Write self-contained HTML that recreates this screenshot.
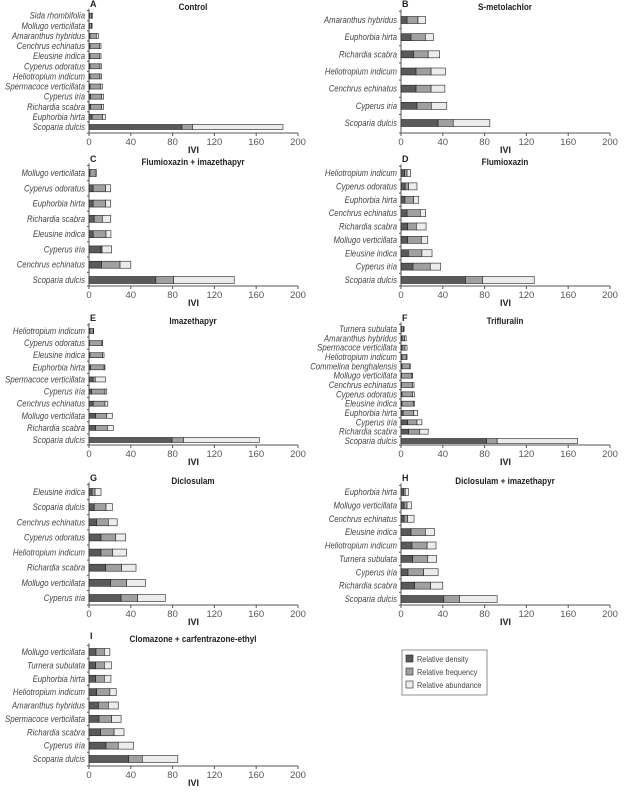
<!DOCTYPE html>
<html><head><meta charset="utf-8"><style>
body{margin:0;background:#fff}
svg{display:block}
text{font-family:"Liberation Sans",sans-serif}
</style></head><body>
<svg id="fig" width="624" height="792" viewBox="0 0 624 792"></svg>
<script>
const ticks=[0,40,80,120,160,200];
const seriesNames=["Relative density","Relative frequency","Relative abundance"];
const seriesColors=["#5a5a5a","#a0a0a0","#ececec"];

const catA=["Sida rhombifolia","Mollugo verticillata","Amaranthus hybridus","Cenchrus echinatus","Eleusine indica","Cyperus odoratus","Heliotropium indicum","Spermacoce verticillata","Cyperus iria","Richardia scabra","Euphorbia hirta","Scoparia dulcis"];
const denA=[0.5,0.5,1,1,1,1,1,1,1.5,1.5,3,89];
const freA=[2,2,6,9,9,9.5,9.5,10,10.5,10.5,10,10];
const abuA=[1,0.5,2,1.5,1.5,1.5,1.5,1.8,2,2,2.7,86.6];

const catB=["Amaranthus hybridus","Euphorbia hirta","Richardia scabra","Heliotropium indicum","Cenchrus echinatus","Cyperus iria","Scoparia dulcis"];
const denB=[5.8,9.6,12,14.4,14.4,15.3,35.5];
const freB=[10.5,13.7,14,14.4,14.4,13.7,14.5];
const abuB=[7.3,7.7,11,13.7,13.2,14.8,35];

const catC=["Mollugo verticillata","Cyperus odoratus","Euphorbia hirta","Richardia scabra","Eleusine indica","Cyperus iria","Cenchrus echinatus","Scoparia dulcis"];
const denC=[1,4,4,5,4,11.5,12,64];
const freC=[5,12,12,7.8,12.3,1,17.7,17];
const abuC=[1,4.8,4.8,8,4.7,9.2,10.3,58];

const catD=["Heliotropium indicum","Cyperus odoratus","Euphorbia hirta","Cenchrus echinatus","Richardia scabra","Mollugo verticillata","Eleusine indica","Cyperus iria","Scoparia dulcis"];
const denD=[3.5,4,3.8,5.8,6.4,6.4,7,11.5,61.7];
const freD=[2.3,3.3,8.2,12.7,8.3,13.1,13,16.5,16.3];
const abuD=[3.5,8,5,5.1,9.3,6.1,9.7,10,49.5];

const catE=["Heliotropium indicum","Cyperus odoratus","Eleusine indica","Euphorbia hirta","Spermacoce verticillata","Cyperus iria","Cenchrus echinatus","Mollugo verticillata","Richardia scabra","Scoparia dulcis"];
const denE=[1,0.5,1,1.5,4,2.5,4,6.4,6.4,79.5];
const freE=[3,12,12,13,2,12.8,11.3,10.6,11.2,10.9];
const abuE=[0.5,0.5,1.4,0.8,9.7,1.7,2.7,5.4,5.7,72.6];

const catF=["Turnera subulata","Amaranthus hybridus","Spermacoce verticillata","Heliotropium indicum","Commelina benghalensis","Mollugo verticillata","Cenchrus echinatus","Cyperus odoratus","Eleusine indica","Euphorbia hirta","Cyperus iria","Richardia scabra","Scoparia dulcis"];
const denF=[0.5,1,1,1,1,0.5,0.5,1,1,2,6.4,7.3,82];
const freF=[2,2.5,2.8,4,7,10,10.5,10,11,10,8.9,10.7,10];
const abuF=[0.5,1.5,2,0.8,1,0.7,1.5,1.8,1,4,4.7,8,77];

const catG=["Eleusine indica","Scoparia dulcis","Cenchrus echinatus","Cyperus odoratus","Heliotropium indicum","Richardia scabra","Mollugo verticillata","Cyperus iria"];
const denG=[3,5,7.3,11.5,11.5,16,20.8,30.7];
const freG=[2.8,11.3,11.2,14.1,11.2,15.3,15.2,15.9];
const abuG=[5.7,6.1,8.5,9.4,13.3,13.7,18,26.4];

const catH=["Euphorbia hirta","Mollugo verticillata","Cenchrus echinatus","Eleusine indica","Heliotropium indicum","Turnera subulata","Cyperus iria","Richardia scabra","Scoparia dulcis"];
const denH=[2.5,3,3,9.6,10.5,11.2,6.7,13,41];
const freH=[1.5,2.8,3.4,13.7,14.5,14.4,15,15.4,15];
const abuH=[3,4.1,6.1,8.7,8.5,8.4,13.8,11.6,36];

const catI=["Mollugo verticillata","Turnera subulata","Euphorbia hirta","Heliotropium indicum","Amaranthus hybridus","Spermacoce verticillata","Richardia scabra","Cyperus iria","Scoparia dulcis"];
const denI=[6.7,6.4,6.4,7.3,9,9.6,11.2,16.3,38];
const freI=[8,8.3,8.3,12.7,9.5,12.1,12.8,11.7,13];
const abuI=[5.3,6.7,6.3,6,9.5,9,9.5,14.5,34];

const NS="http://www.w3.org/2000/svg";
const svg=document.getElementById("fig");
function el(tag,attrs,parent,txt){const e=document.createElementNS(NS,tag);for(const k in attrs)e.setAttribute(k,attrs[k]);if(txt!==undefined)e.textContent=txt;(parent||svg).appendChild(e);return e;}

function panel(letter,title,cats,den,fre,abu,x0,yFirst,yLast,axisY,titleY,barH,ivi){
  const g=el("g",{});
  
  
  const xs=v=>x0+v*209/200;
  const n=cats.length;
  const ys=i=>n>1?yFirst+i*(yLast-yFirst)/(n-1):yFirst;
  const pl=el("text",{x:x0+1,y:titleY-3,"font-size":"9","font-weight":"bold",fill:"#222"},g,letter);
  
  
  const tt=el("text",{transform:"translate("+(x0+104)+","+titleY+") scale(0.9,1)","font-size":"9","font-weight":"bold",fill:"#222","text-anchor":"middle"},g,title);
  
  
  const top=yFirst-(ys(1)-ys(0))/2-2;
  el("line",{x1:x0,y1:top,x2:x0,y2:axisY,stroke:"#555","stroke-width":"1"},g);
  el("line",{x1:x0,y1:axisY,x2:xs(200),y2:axisY,stroke:"#555","stroke-width":"1"},g);
  for(let i=0;i<=n;i++){const yy=i<n?ys(i)-(ys(1)-ys(0))/2:axisY;el("line",{x1:x0-2,y1:yy,x2:x0,y2:yy,stroke:"#555"},g);}
  ticks.forEach(t=>{
    el("line",{x1:xs(t),y1:axisY,x2:xs(t),y2:axisY+3,stroke:"#555"},g);
    const tl=el("text",{x:xs(t),y:axisY+12,"font-size":"9.5",fill:"#555","text-anchor":"middle"},g,String(t));
    
    
  });
  if(ivi){const it=el("text",{x:xs(100),y:axisY+20,"font-size":"9","font-weight":"bold",fill:"#222","text-anchor":"middle"},g,"IVI");
    
    }
  cats.forEach((c,i)=>{
    const y=ys(i);
    const lb=el("text",{transform:"translate("+(x0-4)+","+(y+3)+") scale(0.86,1)","font-size":"9","font-style":"italic",fill:"#444","text-anchor":"end"},g,c);
    
    
    const vals=[den[i],fre[i],abu[i]];let acc=0;
    vals.forEach((v,k)=>{
      const r=el("rect",{x:xs(acc),y:y-barH/2,width:Math.max(0.5,xs(acc+v)-xs(acc)),height:barH,fill:seriesColors[k],stroke:"#222","stroke-width":"0.6"},g);
      
      
      acc+=v;
    });
  });
}
panel("A","Control",catA,denA,freA,abuA,89,15.7,127,133,10,5,true);
panel("B","S-metolachlor",catB,denB,freB,abuB,401,20,123,133,10,7,true);
panel("C","Flumioxazin + imazethapyr",catC,denC,freC,abuC,89,173,280,286,165,7,true);
panel("D","Flumioxazin",catD,denD,freD,abuD,401,173,280,286,165,7,true);
panel("E","Imazethapyr",catE,denE,freE,abuE,89,331,440,445,324,5,true);
panel("F","Trifluralin",catF,denF,freF,abuF,401,329,441,445,324,5,true);
panel("G","Diclosulam",catG,denG,freG,abuG,89,492,598,605,484,7,true);
panel("H","Diclosulam + imazethapyr",catH,denH,freH,abuH,401,492,599,605,484,7,true);
panel("I","Clomazone + carfentrazone-ethyl",catI,denI,freI,abuI,89,652,759,766,642,7,true);

const lg=el("g",{});


el("rect",{x:402,y:650,width:85,height:45,fill:"#fff",stroke:"#777","stroke-width":"0.8"},lg);
seriesNames.forEach((s,k)=>{
  const yy=659+k*13;
  const sw=el("rect",{x:406,y:yy-4,width:7,height:7,fill:seriesColors[k],stroke:"#222","stroke-width":"0.6"},lg);
  
  
  const t=el("text",{transform:"translate(417,"+(yy+3)+") scale(0.86,1)","font-size":"8.5",fill:"#444"},lg,s);
  
  
});
</script>
</body></html>
